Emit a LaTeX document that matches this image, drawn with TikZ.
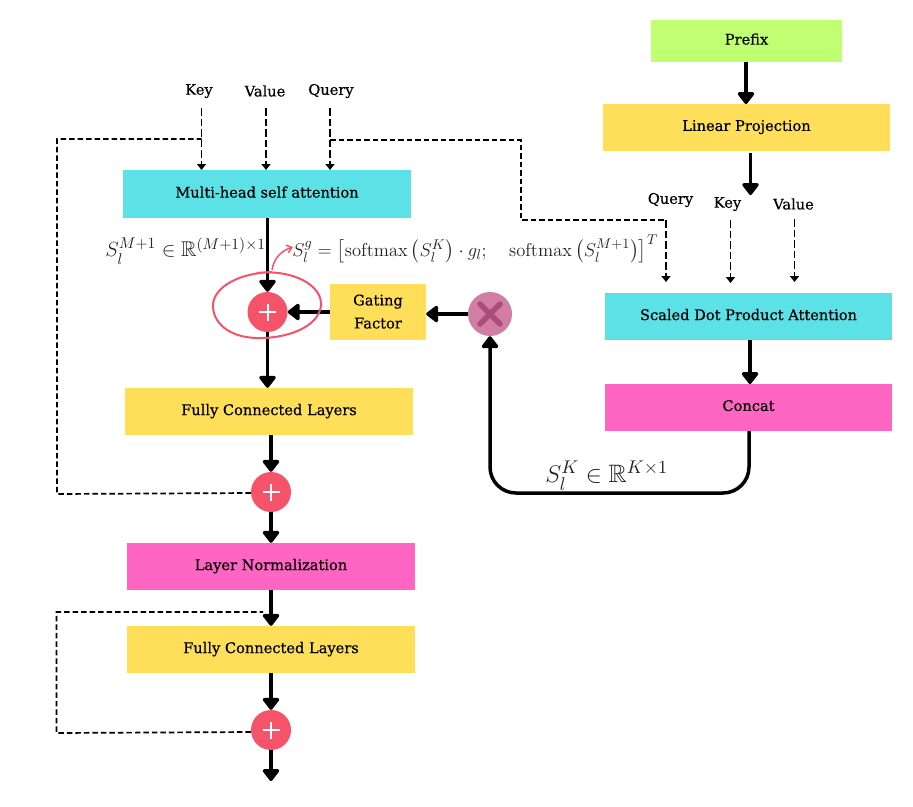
\documentclass[tikz,border=0pt]{standalone}
\usepackage{amsmath,amssymb}
\usepackage[no-math]{fontspec}
\setmainfont{DejaVu Serif}[FakeBold=0.45]
\usetikzlibrary{arrows.meta,calc}
\definecolor{limebox}{HTML}{C1FF72}
\definecolor{yellowbox}{HTML}{FFDE59}
\definecolor{cyanbox}{HTML}{5CE1E6}
\definecolor{pinkbox}{HTML}{FF66C4}
\definecolor{addred}{HTML}{F4536A}
\definecolor{mulpink}{HTML}{D27DA3}
\definecolor{mulmark}{HTML}{A94E7C}
\definecolor{eqgray}{HTML}{222222}
\tikzset{
  x=1pt,y=-1pt,
  box/.style={minimum width=#1,inner sep=0pt,align=center,font=\fontsize{14.6}{22.5}\selectfont},
  block/.style={box=287pt,minimum height=47pt,fill=#1},
  port/.style={inner sep=0pt,font=\fontsize{14.6}{18}\selectfont},
  flow/.style={line width=3.5pt,-{Triangle[width=19pt,length=13pt,round]}},
  tapdash/.style={line width=1.9pt,dash pattern=on 7.5pt off 3pt,-{Triangle[width=9pt,length=6pt]}},
  loopdash/.style={line width=1.7pt,dash pattern=on 5.5pt off 3pt},
  addnode/.style={circle,fill=addred,minimum size=40pt,inner sep=0pt},
  eqn/.style={inner sep=0pt,text=eqgray,font=\fontsize{15}{18}\selectfont},
}
\begin{document}
\begin{tikzpicture}
\useasboundingbox (0,0) rectangle (913,806);

% Right column
\node[box=191pt,minimum height=42pt,fill=limebox,text depth=4pt] (prefix) at (746.5,41) {Prefix};
\node[block=yellowbox,text depth=4pt] (proj) at (746.5,127.5) {Linear Projection};
\node[block=cyanbox,text depth=4pt] (sdpa) at (748.5,316.5) {Scaled Dot Product Attention};
\node[block=pinkbox,text depth=4pt] (concat) at (748.5,407.5) {Concat};

% Left column
\node[block=cyanbox,minimum width=288pt,minimum height=48pt,text depth=4pt] (mhsa) at (267,194) {Multi-head self attention};
\node[block=yellowbox,minimum width=288pt,text depth=4pt] (fc1) at (269,411.5) {Fully Connected Layers};
\node[block=pinkbox,minimum width=288pt,text depth=4pt] (norm) at (271,566.5) {Layer Normalization};
\node[block=yellowbox,minimum width=288pt,text depth=4pt] (fc2) at (271,649.5) {Fully Connected Layers};
\node[box=96pt,minimum height=56pt,fill=yellowbox] (gate) at (378,312) {\raisebox{1.5pt}{Gating}\\\raisebox{1pt}{Factor}};

% Operators
\node[addnode] (add1) at (267.5,312) {};
\node[addnode] (add2) at (271,492) {};
\node[addnode] (add3) at (271,730) {};
\node[circle,fill=mulpink,minimum size=44pt,inner sep=0pt] (mul) at (490,314) {};
\foreach \c in {add1,add2,add3}{
  \draw[white,line width=2pt] ($(\c)+(-8.5,0)$) -- ($(\c)+(8.5,0)$) ($(\c)+(0,-8.5)$) -- ($(\c)+(0,8.5)$);
}
\draw[mulmark,line width=5.5pt,line cap=round] ($(mul)+(-10,-10)$) -- ($(mul)+(10,10)$) ($(mul)+(10,-10)$) -- ($(mul)+(-10,10)$);

% Input labels
\node[port] (keyL) at (199,91) {Key};
\node[port] (valueL) at (265,91) {Value};
\node[port] (queryL) at (331,91) {Query};
\node[port] (queryR) at (670.5,200) {Query};
\node[port] (keyR) at (727.5,204) {Key};
\node[port] (valueR) at (793.5,204) {Value};

% Free ends of the connectors
\coordinate (keyS) at (201.5,108);
\coordinate (valueS) at (266,108);
\coordinate (queryS) at (330,108);
\coordinate (queryE) at (330,170);
\coordinate (keyE) at (201.5,170);
\coordinate (valueE) at (266,170);
\coordinate (qTurn) at (666,220);
\coordinate (qEnd) at (666,282);
\coordinate (kStart) at (730.5,220);
\coordinate (kEnd) at (730.5,283);
\coordinate (vStart) at (794.5,219);
\coordinate (vEnd) at (794.5,282);
\coordinate (out) at (271,781);
\coordinate (projEnd) at (750.5,195);

% Dashed tap arrows
\draw[tapdash] (keyS) -- (keyE);
\draw[tapdash] (valueS) -- (valueE);
\draw[tapdash] (queryS) -- (queryE);
\draw[tapdash] (qTurn) -- (qEnd);
\draw[tapdash] (kStart) -- (kEnd);
\draw[tapdash] (vStart) -- (vEnd);

% Dashed skip connections
\draw[loopdash] ($(add2.west)+(0,1)$) -- (57,494) -- (57,139) -- (201.5,139);
\draw[loopdash] (330,140) -- (521,140) -- (521,220) -- (qTurn);
\draw[loopdash] ($(add3.west)+(0,2)$) -- (56.5,733) -- (56.5,612) -- (263,612);

% Main flow
\draw[flow] (746,62) -- (746,104);
\draw[flow] (750.5,153) -- (projEnd);
\draw[flow] (750,340) -- (750,384);
\draw[flow] (mhsa.south -| add1) -- (add1.north);
\draw[flow] (add1.south) -- (fc1.north -| add1);
\draw[flow] (fc1.south -| add2) -- (add2.north);
\draw[flow] (add2.south) -- (norm.north);
\draw[flow] (norm.south) -- (fc2.north);
\draw[flow] (fc2.south) -- (add3.north);
\draw[flow] (add3.south) -- (out);
\draw[flow] (gate.west) -- (add1.east);
\draw[flow] (mul.west) -- (gate.east |- mul.west);
\draw[flow,rounded corners=26pt] (749,431) -- (749,493) -- (mul.south |- 0,493) -- (mul.south);

% Hand-drawn emphasis around the gated sum
\draw[addred,line width=2pt,line cap=round]
  (257,273) .. controls (292,269) and (323,285) .. (321,306)
  .. controls (318,328) and (285,339) .. (256,338)
  .. controls (228,337) and (212,322) .. (213,304)
  .. controls (215,286) and (240,273) .. (272,272);
\draw[addred,line width=1.5pt,-{Straight Barb[length=5pt,width=8pt]}]
  (272,270) .. controls (274,258) and (281,251) .. (293,247);

% Equations
\node[eqn,anchor=west,scale=1.42] (eqM) at (105,251) {$S_l^{M+1}\in\mathbb{R}^{(M+1)\times 1}$};
\node[eqn,anchor=west,scale=1.29] (eqG) at (292,249) {$S_l^g=\left[\mathrm{softmax}\left(S_l^K\right)\cdot g_l;\quad \mathrm{softmax}\left(S_l^{M+1}\right)\right]^T$};
\node[eqn,anchor=west,scale=1.68] (eqK) at (545,476) {$S_l^K\in\mathbb{R}^{K\times 1}$};
\end{tikzpicture}
\end{document}
